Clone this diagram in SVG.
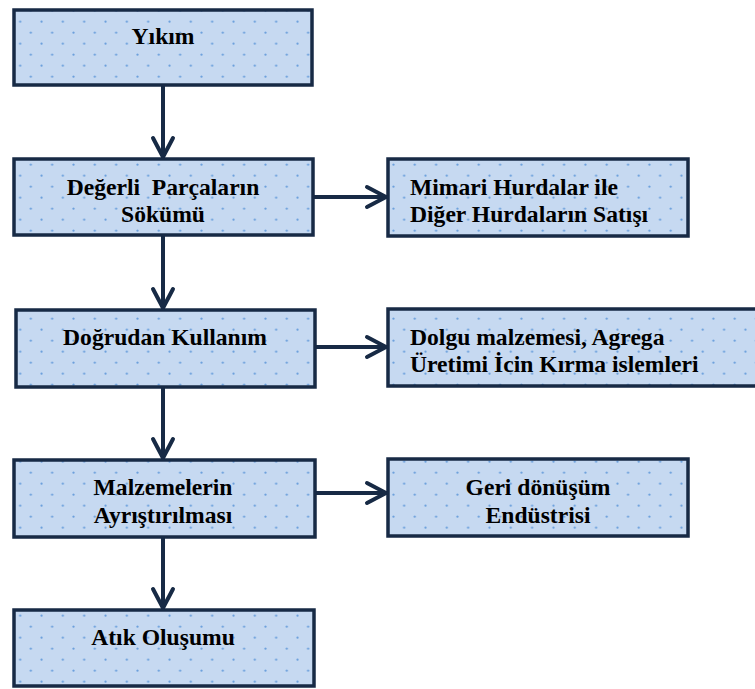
<svg xmlns="http://www.w3.org/2000/svg" width="755" height="689" viewBox="0 0 755 689">
  <style>
    .box { fill: url(#dots); stroke: #172a45; stroke-width: 3.5; }
    .lbl { font-weight: bold; font-size: 23.6px; fill: #000; white-space: pre; }
    .mid { text-anchor: middle; }
    .conn { fill: none; stroke: #172a45; stroke-width: 4; stroke-linecap: round; }
  </style>
  <defs>
    <!-- light blue fill with staggered dots -->
    <pattern id="dots" patternUnits="userSpaceOnUse" x="8" y="10" width="21.33" height="22">
      <rect width="21.33" height="22" fill="#c6d9f1"/>
      <circle cx="1.5" cy="0.7" r="1.1" fill="#6a9fdc"/>
      <circle cx="12.2" cy="11.7" r="1.1" fill="#6a9fdc"/>
      <circle cx="22.83" cy="0.7" r="1.1" fill="#6a9fdc"/>
      <circle cx="1.5" cy="22.7" r="1.1" fill="#6a9fdc"/>
    </pattern>
    <marker id="chev" viewBox="-22 -13 25 26" refX="0" refY="0" markerWidth="25" markerHeight="26" markerUnits="userSpaceOnUse" orient="auto">
      <path d="M-19,-10 L0,0 L-19,10" fill="none" stroke="#172a45" stroke-width="4" stroke-linecap="round" stroke-linejoin="round"/>
    </marker>
  </defs>

  <g id="connectors">
    <line class="conn" x1="163" y1="86" x2="163" y2="157" marker-end="url(#chev)"/>
    <line class="conn" x1="163" y1="236" x2="163" y2="308" marker-end="url(#chev)"/>
    <line class="conn" x1="163" y1="388" x2="163" y2="458" marker-end="url(#chev)"/>
    <line class="conn" x1="163" y1="538" x2="163" y2="608" marker-end="url(#chev)"/>
    <line class="conn" x1="314" y1="197" x2="386" y2="197" marker-end="url(#chev)"/>
    <line class="conn" x1="316" y1="347" x2="386" y2="347" marker-end="url(#chev)"/>
    <line class="conn" x1="316" y1="493" x2="386" y2="493" marker-end="url(#chev)"/>
  </g>

  <g font-family="'Liberation Serif', 'Times New Roman', 'DejaVu Serif', serif">
    <g id="yikim">
      <rect class="box" x="14" y="10" width="298" height="75"/>
      <text class="lbl mid" x="163" y="44">Yıkım</text>
    </g>

    <g id="degerli-parcalar">
      <rect class="box" x="14" y="159" width="299" height="76"/>
      <text class="lbl mid" x="163" y="195">Değerli  Parçaların</text>
      <text class="lbl mid" x="163" y="222">Sökümü</text>
    </g>

    <g id="hurda-satisi">
      <rect class="box" x="388" y="159" width="300" height="77"/>
      <text class="lbl" x="410" y="195">Mimari Hurdalar ile</text>
      <text class="lbl" x="410" y="222">Diğer Hurdaların Satışı</text>
    </g>

    <g id="dogrudan-kullanim">
      <rect class="box" x="16" y="310" width="299" height="77"/>
      <text class="lbl mid" x="165" y="345">Doğrudan Kullanım</text>
    </g>

    <g id="kirma-islemleri">
      <rect class="box" x="388" y="309" width="380" height="77"/>
      <text class="lbl" x="410" y="345">Dolgu malzemesi, Agrega</text>
      <text class="lbl" x="410" y="372">Üretimi İcin Kırma islemleri</text>
    </g>

    <g id="ayristirma">
      <rect class="box" x="14" y="460" width="301" height="77"/>
      <text class="lbl mid" x="163" y="495">Malzemelerin</text>
      <text class="lbl mid" x="163" y="523">Ayrıştırılması</text>
    </g>

    <g id="geri-donusum">
      <rect class="box" x="388" y="459" width="300" height="77"/>
      <text class="lbl mid" x="538" y="495">Geri dönüşüm</text>
      <text class="lbl mid" x="538" y="523">Endüstrisi</text>
    </g>

    <g id="atik-olusumu">
      <rect class="box" x="14" y="610" width="300" height="76"/>
      <text class="lbl mid" x="163" y="645">Atık Oluşumu</text>
    </g>
  </g>
</svg>
